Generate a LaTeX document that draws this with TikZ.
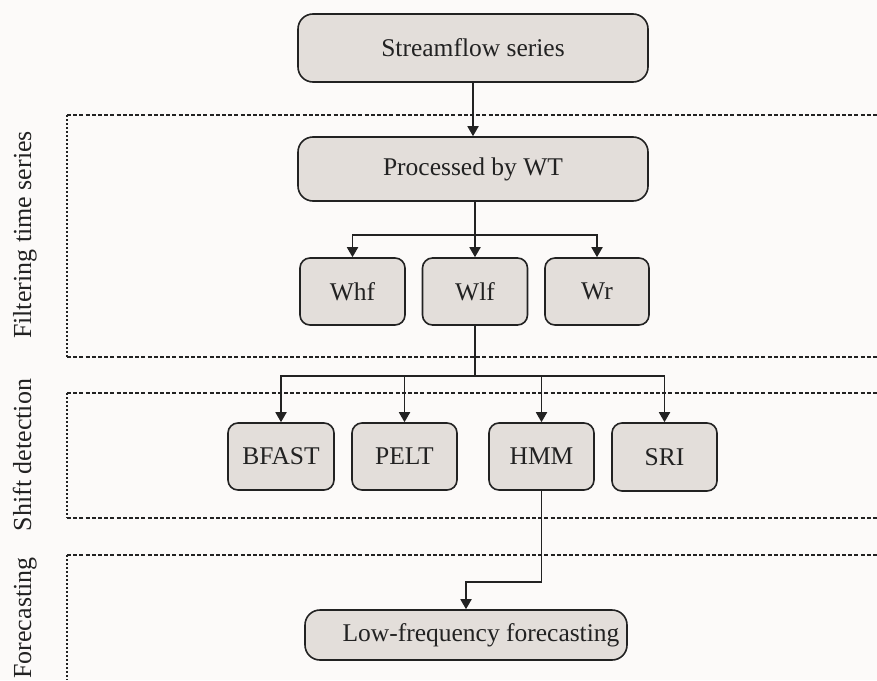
\documentclass[tikz,border=0pt]{standalone}
\usepackage{fontspec}
\setmainfont{Liberation Serif}
\usetikzlibrary{arrows.meta}
\definecolor{bgc}{HTML}{FCFAF9}
\definecolor{boxfill}{HTML}{E3DEDA}
\definecolor{ink}{HTML}{222222}
\tikzset{
  stagebox/.style={draw=ink, fill=boxfill, line width=1.6pt, rounded corners=10pt,
    inner sep=0pt, font=\fontsize{25.5}{30}\selectfont, text=ink},
  bigbox/.style={stagebox, rounded corners=15pt},
  conn/.style={draw=ink, line width=1.8pt},
  arr/.style={conn, -{Triangle[length=10pt,width=11pt]}},
  sep/.style={draw=ink, line width=2.4pt, dash pattern=on 4pt off 2.2pt},
  vsep/.style={draw=ink, line width=2.4pt, dash pattern=on 2.4pt off 1.6pt},
  sidelabel/.style={rotate=90, anchor=base, inner sep=0pt, text=ink,
    font=\fontsize{26}{30}\selectfont}
}
\begin{document}
\begin{tikzpicture}[x=1pt,y=-1pt]
\useasboundingbox (0,0) rectangle (877,680);
\fill[bgc] (0,0) rectangle (877,680);

% section frames
\draw[sep] (67,115) -- (877,115);
\draw[sep] (67,357) -- (877,357);
\draw[vsep] (67,115) -- (67,357);
\draw[sep] (67,393) -- (877,393);
\draw[sep] (67,518) -- (877,518);
\draw[vsep] (67,393) -- (67,518);
\draw[sep] (67,555) -- (877,555);
\draw[vsep] (67,555) -- (67,680);

% side labels
\node[sidelabel] (lab1) at (31,235) {Filtering time series};
\node[sidelabel] (lab2) at (31,455) {Shift detection};
\node[sidelabel] (lab3) at (31,618) {Forecasting};

% nodes
\node[bigbox, minimum width=350pt, minimum height=68pt] (sf) at (473,48) {Streamflow series};
\node[bigbox, minimum width=350pt, minimum height=64pt] (wt) at (473,169) {Processed by WT};

\node[stagebox, minimum width=105pt, minimum height=67pt] (whf) at (352.5,291.5) {Whf};
\node[stagebox, minimum width=105pt, minimum height=67pt] (wlf) at (475,291.5) {Wlf};
\node[stagebox, minimum width=104pt, minimum height=67pt] (wr) at (597,291.5) {Wr};

\node[stagebox, minimum width=106pt, minimum height=67pt] (bfast) at (281,456.5) {BFAST};
\node[stagebox, minimum width=105pt, minimum height=67pt] (pelt) at (404.5,456.5) {PELT};
\node[stagebox, minimum width=105pt, minimum height=67pt] (hmm) at (541.5,456.5) {HMM};
\node[stagebox, minimum width=105pt, minimum height=68pt] (sri) at (664.5,457) {SRI};

\node[bigbox, minimum width=322pt, minimum height=50pt, inner xsep=7pt] (lf) at (466,635) {\hspace*{30pt}Low-frequency forecasting};

% connectors
\draw[arr] (sf.south) -- (wt.north);

\coordinate (b1) at (475,235);
\draw[conn] (475,201) -- (b1);
\draw[arr] (b1) -| (whf.north);
\draw[arr] (b1) -| (wr.north);
\draw[arr] (b1) -- (wlf.north);

\coordinate (b2) at (475,376);
\draw[conn] (wlf.south) -- (b2);
\draw[arr] (b2) -| (bfast.north);
\draw[arr] (b2) -| (pelt.north);
\draw[arr] (b2) -| (hmm.north);
\draw[arr] (b2) -| (sri.north);

\coordinate (b3) at (541.5,582);
\draw[conn] (hmm.south) -- (b3);
\draw[arr] (b3) -| (lf.north);
\end{tikzpicture}
\end{document}
